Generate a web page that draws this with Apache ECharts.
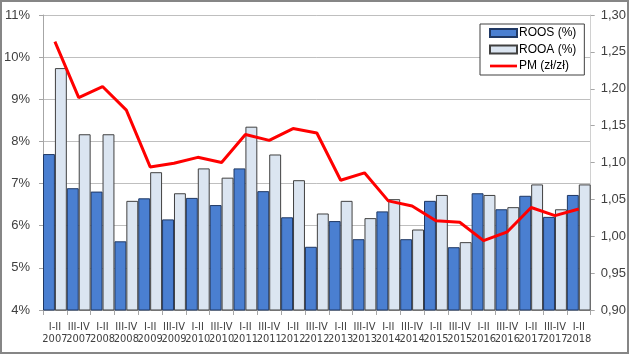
<!DOCTYPE html>
<html>
<head>
<meta charset="utf-8">
<script src="https://cdn.jsdelivr.net/npm/echarts@6/dist/echarts.min.js"></script>
<style>
  html, body { margin: 0; padding: 0; background: #fff; }
  #chart { width: 629px; height: 354px; }
</style>
</head>
<body>
<div id="chart"></div>
<script>
// półrocza
const categories = [
  'I-II\n2007', 'III-IV\n2007', 'I-II\n2008', 'III-IV\n2008', 'I-II\n2009', 'III-IV\n2009',
  'I-II\n2010', 'III-IV\n2010', 'I-II\n2011', 'III-IV\n2011', 'I-II\n2012', 'III-IV\n2012',
  'I-II\n2013', 'III-IV\n2013', 'I-II\n2014', 'III-IV\n2014', 'I-II\n2015', 'III-IV\n2015',
  'I-II\n2016', 'III-IV\n2016', 'I-II\n2017', 'III-IV\n2017', 'I-II\n2018'
];

// rentowność (%)
const roos = [7.70, 6.89, 6.81, 5.63, 6.65, 6.15, 6.66, 6.49, 7.36, 6.82, 6.20, 5.50,
  6.11, 5.68, 6.34, 5.68, 6.59, 5.49, 6.77, 6.39, 6.71, 6.21, 6.73];
const rooa = [9.74, 8.17, 8.17, 6.59, 7.27, 6.77, 7.36, 7.14, 8.35, 7.69, 7.08, 6.29,
  6.59, 6.18, 6.63, 5.91, 6.73, 5.61, 6.73, 6.44, 6.98, 6.39, 6.98];

// PM (zł/zł)
const pm = [1.264, 1.188, 1.203, 1.171, 1.094, 1.099, 1.107, 1.100, 1.138, 1.130, 1.146, 1.140,
  1.076, 1.086, 1.048, 1.041, 1.021, 1.019, 0.994, 1.006, 1.039, 1.028, 1.037];

const chart = echarts.init(document.getElementById('chart'));

const narrowFont = "'Liberation Sans Narrow', 'DejaVu Sans Condensed', 'Liberation Sans', sans-serif";
const plainFont = "'Liberation Sans', Arial, sans-serif";
const axisGray = '#a6a6a6';

chart.setOption({
  animation: false,
  textStyle: { fontFamily: plainFont },
  // ramka wykresu
  graphic: [{
    type: 'rect',
    shape: { x: 1, y: 1, width: 627, height: 352 },
    style: { fill: null, stroke: '#868686', lineWidth: 2 },
    z: 100
  }],
  grid: { left: 43, right: 37, top: 15, bottom: 44 },
  legend: {
    orient: 'vertical',
    left: 480,
    top: 24,
    padding: [2, 8, 2, 9],
    itemGap: 2.5,
    itemWidth: 27,
    itemHeight: 8,
    borderColor: '#404040',
    borderWidth: 1,
    backgroundColor: '#fff',
    textStyle: { fontSize: 12, lineHeight: 14, color: '#000', fontFamily: plainFont, padding: [0, 0, 0, -3] },
    data: [
      { name: 'ROOS (%)', icon: 'rect' },
      { name: 'ROOA (%)', icon: 'rect' },
      { name: 'PM (zł/zł)', icon: 'path://M0,0H30V3H0Z' }
    ]
  },
  xAxis: {
    type: 'category',
    data: categories,
    axisLine: { lineStyle: { color: axisGray } },
    axisTick: { show: true, length: 5, lineStyle: { color: axisGray } },
    axisLabel: {
      interval: 0,
      fontSize: 11,
      lineHeight: 12,
      margin: 11,
      color: '#404040',
      fontFamily: narrowFont
    }
  },
  yAxis: [
    {
      type: 'value',
      min: 4,
      max: 11,
      interval: 1,
      axisLine: { show: true, lineStyle: { color: axisGray } },
      axisTick: { show: true, length: 4, lineStyle: { color: axisGray } },
      splitLine: { lineStyle: { color: '#bfbfbf' } },
      axisLabel: {
        formatter: '{value}%',
        fontSize: 13,
        margin: 13,
        color: '#404040',
        fontFamily: plainFont
      }
    },
    {
      type: 'value',
      min: 0.9,
      max: 1.3,
      interval: 0.05,
      axisLine: { show: true, lineStyle: { color: '#d0d0d0' } },
      axisTick: { show: true, length: 4, lineStyle: { color: axisGray } },
      splitLine: { show: false },
      axisLabel: {
        formatter: v => v.toFixed(2).replace('.', ','),
        fontSize: 13,
        margin: 10,
        color: '#404040',
        fontFamily: plainFont
      }
    }
  ],
  series: [
    {
      name: 'ROOS (%)',
      type: 'bar',
      data: roos,
      barWidth: '50%',
      barGap: '0%',
      barCategoryGap: '0%',
      itemStyle: { color: '#4a7fd1', borderColor: '#1f3864', borderWidth: 1 }
    },
    {
      name: 'ROOA (%)',
      type: 'bar',
      data: rooa,
      barWidth: '50%',
      barGap: '0%',
      barCategoryGap: '0%',
      itemStyle: { color: '#dbe5f1', borderColor: '#404040', borderWidth: 1 }
    },
    {
      name: 'PM (zł/zł)',
      type: 'line',
      yAxisIndex: 1,
      data: pm,
      symbol: 'none',
      lineStyle: { color: '#ff0000', width: 3 },
      itemStyle: { color: '#ff0000' },
      z: 5
    }
  ]
});
</script>
</body>
</html>
